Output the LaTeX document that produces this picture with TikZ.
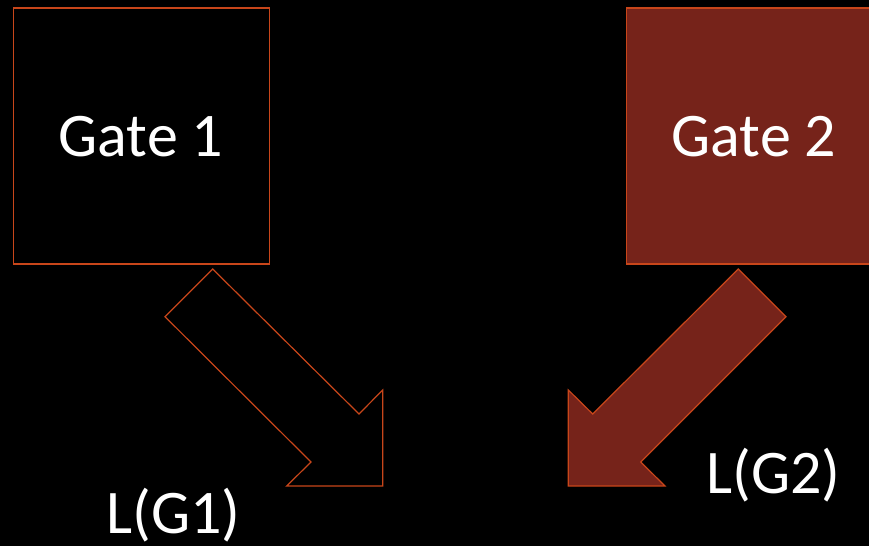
\documentclass[tikz,border=0pt]{standalone}
\usepackage{fontspec}
\setmainfont{Carlito}
\definecolor{edgeor}{HTML}{C8461A}
\definecolor{gatered}{HTML}{76231A}
\tikzset{
  gatebox/.style={draw=edgeor, line width=1.2pt, minimum width=256pt, minimum height=256pt, inner sep=0pt},
  bigtext/.style={text=white, font=\fontsize{62}{70}\selectfont, inner sep=0pt},
  blockarrow/.style={draw=edgeor, line width=1.2pt, line join=miter}
}
\begin{document}
\begin{tikzpicture}[x=1pt,y=-1pt]
\useasboundingbox[fill=black] (0,0) rectangle (869,546);
\node[gatebox, fill=black] (gate1) at (141.4,136) {};
\node[gatebox, fill=gatered] (gate2) at (754.3,136) {};
\node[bigtext, anchor=base] (t1) at (141,156) {Gate 1};
\node[bigtext, anchor=base] (t2) at (754,156) {Gate 2};
\draw[blockarrow] (212.7,269) -- (165,316.7) -- (311,462) -- (286.7,486) -- (382.7,486) -- (382.7,390) -- (359,414) -- cycle;
\draw[blockarrow, fill=gatered] (738.3,269) -- (786,316.7) -- (640.7,462) -- (665,486) -- (568.3,486) -- (568.3,390) -- (592.7,414) -- cycle;
\node[bigtext, anchor=base] (l1) at (173.4,533.3) {L(G1)};
\node[bigtext, anchor=base] (l2) at (773.4,493.3) {L(G2)};
\end{tikzpicture}
\end{document}
